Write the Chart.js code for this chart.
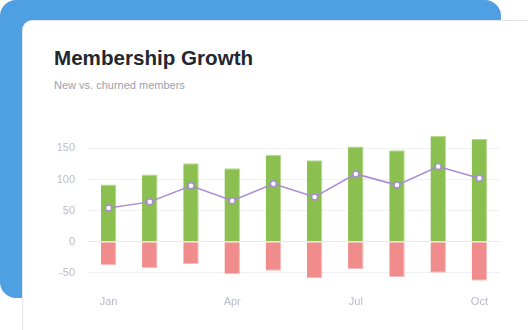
<!DOCTYPE html>
<html>
<head>
<meta charset="utf-8">
<script src="https://cdn.jsdelivr.net/npm/chart.js@4"></script>
<style>
  html, body { margin: 0; padding: 0; }
  body { width: 528px; height: 330px; overflow: hidden; background: #ffffff; position: relative; font-family: "Liberation Sans", Arial, sans-serif; }
  .fundo { position: absolute; left: 0; top: 0; width: 501px; height: 298px; background: #4f9fe3; border-radius: 16px; }
  .cartao { position: absolute; left: 22px; top: 20px; width: 540px; height: 340px; background: #ffffff; border: 1px solid #e2e4ee; border-radius: 10px; box-sizing: border-box; }
  h1 { position: absolute; left: 54px; top: 46px; margin: 0; font-size: 20.6px; font-weight: bold; color: #23272f; }
  .sub { position: absolute; left: 54px; top: 79px; margin: 0; font-size: 11px; color: #9a9fb0; }
  .grafico { position: absolute; left: 40px; top: 125px; width: 460px; height: 211px; }
</style>
</head>
<body>
<div class="fundo"></div>
<div class="cartao"></div>
<h1>Membership Growth</h1>
<p class="sub">New vs. churned members</p>
<div class="grafico"><canvas id="graficoMembros"></canvas></div>

<script>
// Dados
const meses = ['Jan', 'Feb', 'Mar', 'Apr', 'May', 'Jun', 'Jul', 'Aug', 'Sep', 'Oct'];
const novos = [92, 108, 126, 118, 140, 131, 153, 147, 170, 165];
const cancelados = [-38, -43, -36, -52, -47, -59, -44, -57, -50, -63];
const liquido = [54, 64, 90, 66, 93, 72, 109, 91, 121, 102];
const ticksY = [-50, 0, 50, 100, 150];

const corTexto = '#b7bbc7';

const config = {
    type: 'bar',
    data: {
        labels: meses,
        datasets: [
            {
                type: 'line',
                label: 'Net',
                data: liquido,
                stack: 'net',
                order: 0,
                borderColor: '#a98bd4',
                borderWidth: 1.5,
                pointRadius: 3,
                pointBackgroundColor: '#ffffff',
                pointBorderColor: '#a98bd4',
                pointBorderWidth: 1.5,
                tension: 0
            },
            {
                label: 'New',
                data: novos,
                stack: 'membros',
                order: 1,
                backgroundColor: '#8bbf4f',
                borderColor: '#b3d98c',
                borderWidth: { top: 1, right: 1, left: 0, bottom: 0 },
                borderSkipped: false,
                barPercentage: 0.47,
                categoryPercentage: 0.8
            },
            {
                label: 'Churned',
                data: cancelados,
                stack: 'membros',
                order: 1,
                backgroundColor: '#f08c8c',
                borderColor: '#f7b9b9',
                borderWidth: { bottom: 1, right: 1, left: 0, top: 0 },
                borderSkipped: false,
                barPercentage: 0.47,
                categoryPercentage: 0.8
            }
        ]
    },
    options: {
        responsive: true,
        maintainAspectRatio: false,
        animation: false,
        layout: { autoPadding: false, padding: { top: 11, right: 0, bottom: 12, left: 0 } },
        plugins: {
            legend: { display: false },
            tooltip: { enabled: false }
        },
        scales: {
            x: {
                stacked: true,
                afterFit: function (escala) { escala.paddingLeft = 0; escala.paddingRight = 0; },
                grid: { display: false, drawTicks: false },
                border: { display: false },
                ticks: {
                    autoSkip: false,
                    maxRotation: 0,
                    padding: 15,
                    color: corTexto,
                    font: { family: 'Liberation Sans', size: 11 },
                    callback: function (valor, indice) {
                        return indice % 3 === 0 ? meses[indice] : '';
                    }
                }
            },
            y: {
                stacked: true,
                bounds: 'data',
                afterFit: function (escala) {
                    escala.width = 48;
                    escala.paddingTop = 0;
                    escala.paddingBottom = 0;
                },
                afterBuildTicks: function (escala) {
                    escala.ticks = ticksY.map(function (v) { return { value: v }; });
                },
                grid: {
                    drawTicks: false,
                    color: function (ctx) {
                        return ctx.tick && ctx.tick.value === 0 ? '#e8eaf0' : '#f0f1f5';
                    },
                    lineWidth: 1
                },
                border: { display: false },
                ticks: {
                    padding: 13,
                    color: corTexto,
                    font: { family: 'Liberation Sans', size: 11 }
                }
            }
        }
    }
};

new Chart(document.getElementById('graficoMembros'), config);
</script>
</body>
</html>
